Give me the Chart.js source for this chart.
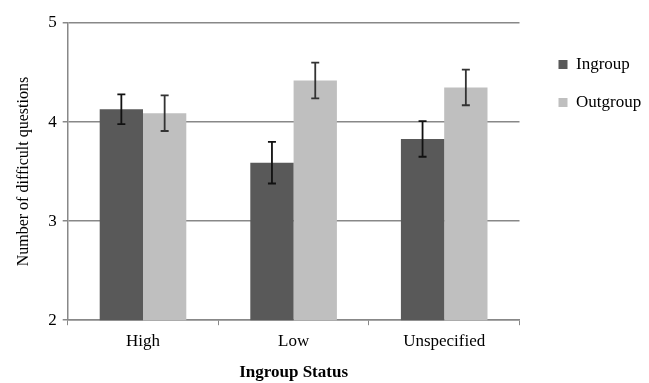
<!DOCTYPE html>
<html>
<head>
<meta charset="utf-8">
<script src="https://cdn.jsdelivr.net/npm/chart.js@4.4.0/dist/chart.umd.min.js"></script>
<style>
  body { margin: 0; background: #fff; }
  #wrap { width: 649px; height: 383px; }
</style>
</head>
<body>
<div id="wrap"><canvas id="myChart"></canvas></div>
<script>
const categories = ['High', 'Low', 'Unspecified'];
const ingroup = [4.13, 3.59, 3.83];
const outgroup = [4.09, 4.42, 4.35];
const ingroupErr = [0.15, 0.21, 0.18];
const outgroupErr = [0.18, 0.18, 0.18];
const yTicks = [2, 3, 4, 5];

// draws the error bars on top of each bar
const errorBars = {
    id: 'errorBars',
    afterDatasetsDraw(chart) {
        const c = chart.ctx;
        const y = chart.scales.y;
        chart.data.datasets.forEach((ds, i) => {
            const meta = chart.getDatasetMeta(i);
            meta.data.forEach((bar, j) => {
                const v = ds.data[j];
                const e = ds.errors[j];
                const top = y.getPixelForValue(v + e);
                const bot = y.getPixelForValue(v - e);
                c.save();
                c.strokeStyle = ds.errorColor;
                c.lineWidth = 1.8;
                c.beginPath();
                c.moveTo(bar.x, top); c.lineTo(bar.x, bot);
                c.moveTo(bar.x - 4, top); c.lineTo(bar.x + 4, top);
                c.moveTo(bar.x - 4, bot); c.lineTo(bar.x + 4, bot);
                c.stroke();
                c.restore();
            });
        });
    }
};

new Chart(document.getElementById('myChart'), {
    type: 'bar',
    data: {
        labels: categories,
        datasets: [
            {
                label: 'Ingroup',
                data: ingroup,
                errors: ingroupErr,
                errorColor: '#111111',
                backgroundColor: '#595959',
                categoryPercentage: 0.575,
                barPercentage: 1
            },
            {
                label: 'Outgroup',
                data: outgroup,
                errors: outgroupErr,
                errorColor: '#333333',
                backgroundColor: '#bfbfbf',
                categoryPercentage: 0.575,
                barPercentage: 1
            }
        ]
    },
    options: {
        responsive: true,
        maintainAspectRatio: false,
        animation: false,
        layout: { padding: { top: 23, right: 6, left: 10, bottom: 0 } },
        plugins: {
            legend: {
                position: 'right',
                align: 'start',
                title: {
                    display: true,
                    text: ' ',
                    padding: 0,
                    font: { family: 'Liberation Serif', size: 10 }
                },
                labels: {
                    color: '#000',
                    boxWidth: 9,
                    boxHeight: 9,
                    padding: 21,
                    font: { family: 'Liberation Serif', size: 17 }
                }
            },
            tooltip: { enabled: false }
        },
        scales: {
            x: {
                grid: {
                    offset: true,
                    drawOnChartArea: false,
                    color: '#888',
                    tickLength: 5
                },
                border: { color: '#888', width: 1.5 },
                ticks: {
                    color: '#000',
                    padding: 6,
                    font: { family: 'Liberation Serif', size: 17 }
                },
                title: {
                    display: true,
                    text: 'Ingroup Status',
                    color: '#000',
                    padding: { top: 5, bottom: 0 },
                    font: { family: 'Liberation Serif', size: 17, weight: 'bold' }
                }
            },
            y: {
                min: 2,
                max: 5,
                afterBuildTicks(axis) {
                    axis.ticks = yTicks.map(v => ({ value: v }));
                },
                grid: { color: '#888', lineWidth: 1.5, tickLength: 5 },
                border: { color: '#888', width: 1.5 },
                ticks: {
                    color: '#000',
                    padding: 6,
                    font: { family: 'Liberation Serif', size: 17 }
                },
                title: {
                    display: true,
                    text: 'Number of difficult questions',
                    color: '#000',
                    padding: { bottom: 9 },
                    font: { family: 'Liberation Serif', size: 16 }
                }
            },
            // empty axis, only keeps a gap between the plot and the legend
            gap: {
                type: 'linear',
                position: 'right',
                display: true,
                grid: { display: false },
                border: { display: false },
                ticks: { display: false },
                afterFit(axis) { axis.width = 18; }
            }
        }
    },
    plugins: [errorBars]
});
</script>
</body>
</html>
